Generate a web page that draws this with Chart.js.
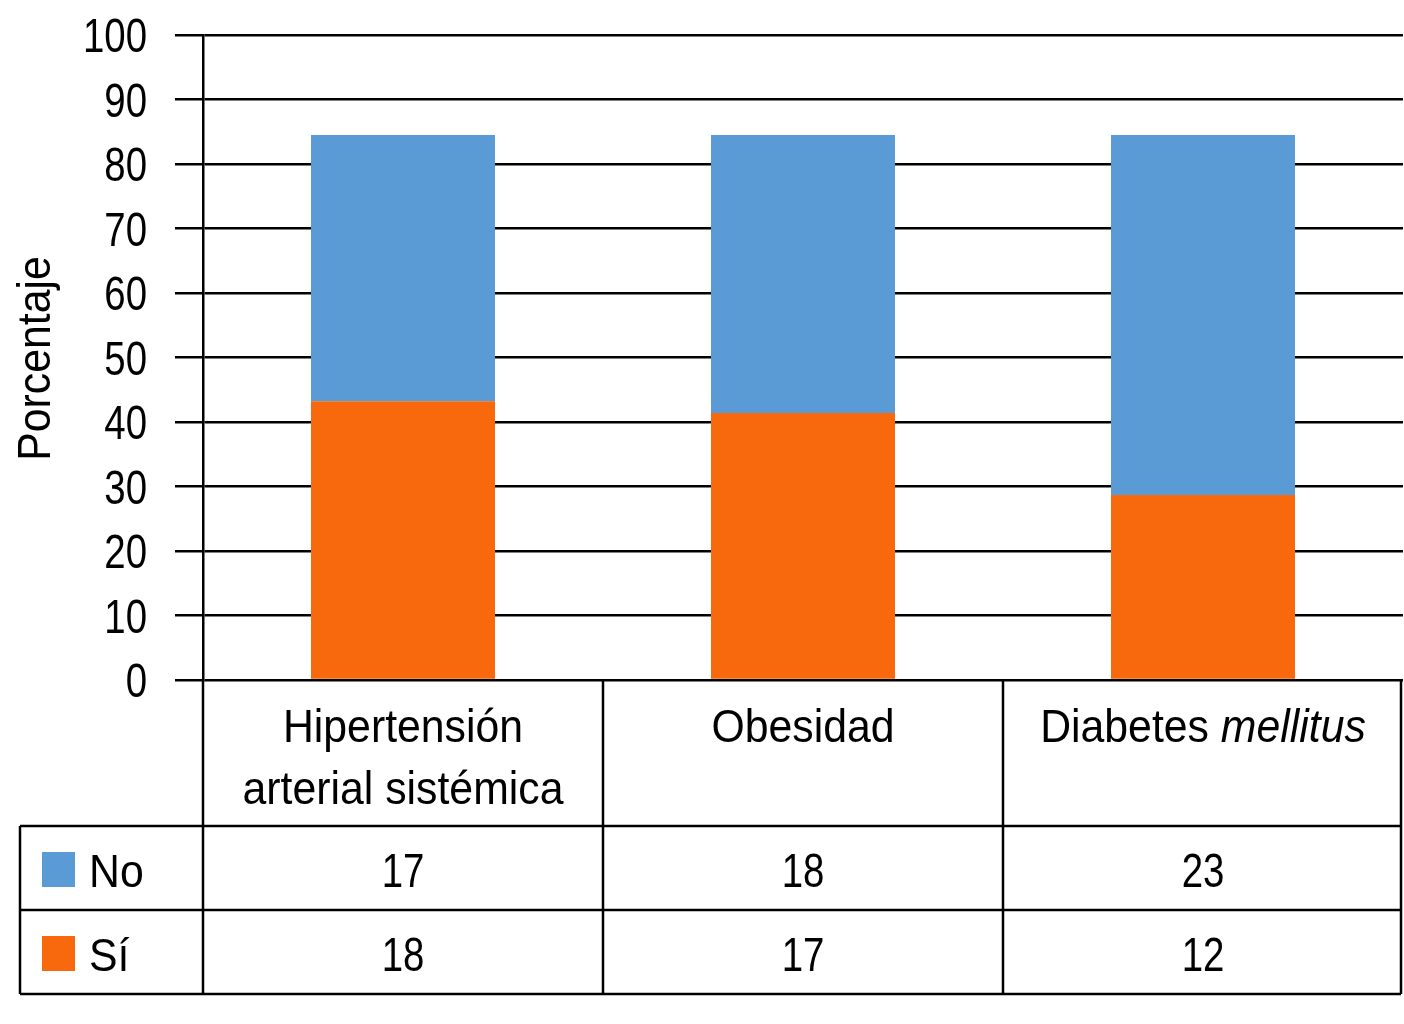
<!DOCTYPE html>
<html>
<head>
<meta charset="utf-8">
<script src="https://cdn.jsdelivr.net/npm/chart.js@4/dist/chart.umd.min.js"></script>
<style>
  html, body { margin: 0; padding: 0; background: #fff; }
  #wrap { width: 1404px; height: 1024px; }
</style>
</head>
<body>
<div id="wrap"><canvas id="chart" width="1404" height="1024"></canvas></div>
<script>
const categories = [['Hipertensión', 'arterial sistémica'], ['Obesidad'], ['Diabetes mellitus']];
const italicWords = ['mellitus'];
const seriesNames = ['No', 'Sí'];
// porcentajes
const siPct = [43.2, 41.4, 28.7];
const noPct = [41.3, 43.1, 55.8];
// conteos de la tabla
const noCounts = [17, 18, 23];
const siCounts = [18, 17, 12];
const yTicks = [0, 10, 20, 30, 40, 50, 60, 70, 80, 90, 100];
const yTitle = 'Porcentaje';

const FONT = "'Liberation Sans', Arial, Helvetica, sans-serif";
const blue = '#5B9BD5';
const orange = '#F7690C';

// texto estrechado (la figura usa una Helvetica condensada)
function narrowText(ctx, text, x, y, opts) {
  const o = Object.assign({ size: 46, sx: 0.93, align: 'left', italic: false }, opts);
  ctx.save();
  ctx.font = (o.italic ? 'italic ' : '') + o.size + 'px ' + FONT;
  ctx.translate(x, y);
  ctx.scale(o.sx, 1);
  ctx.textAlign = o.align;
  ctx.textBaseline = 'alphabetic';
  ctx.fillStyle = '#000';
  ctx.fillText(text, 0, 0);
  ctx.restore();
}

function textWidth(ctx, text, size, sx, italic) {
  ctx.save();
  ctx.font = (italic ? 'italic ' : '') + size + 'px ' + FONT;
  const w = ctx.measureText(text).width * sx;
  ctx.restore();
  return w;
}

const textPlugin = {
  id: 'axisText',
  afterDraw(chart) {
    const ctx = chart.ctx;
    const y = chart.scales.y;
    // etiquetas del eje y
    y.ticks.forEach(t => {
      narrowText(ctx, String(t.value), y.right - 56, y.getPixelForValue(t.value) + 17, { size: 48, sx: 0.8, align: 'right' });
    });
    // titulo del eje y
    ctx.save();
    ctx.translate(50, (chart.chartArea.top + chart.chartArea.bottom) / 2 + 1);
    ctx.rotate(-Math.PI / 2);
    narrowText(ctx, yTitle, 0, 0, { align: 'center' });
    ctx.restore();
  }
};

const tablePlugin = {
  id: 'dataTable',
  afterDraw(chart) {
    const ctx = chart.ctx;
    const area = chart.chartArea;
    const x = chart.scales.x;
    const half = (x.getPixelForValue(1) - x.getPixelForValue(0)) / 2;
    const top = area.bottom;
    const hdrBottom = top + 146;
    const row1 = hdrBottom + 84;
    const row2 = row1 + 84;
    const left = 20;
    const right = area.right - 2;

    ctx.save();
    ctx.strokeStyle = '#000';
    ctx.lineWidth = 2.5;
    ctx.beginPath();
    [hdrBottom, row1, row2].forEach(yy => { ctx.moveTo(left, yy); ctx.lineTo(right, yy); });
    ctx.moveTo(left, hdrBottom); ctx.lineTo(left, row2);
    ctx.moveTo(area.left, top); ctx.lineTo(area.left, row2);
    categories.forEach((c, i) => {
      const xr = i === categories.length - 1 ? right : x.getPixelForValue(i) + half;
      ctx.moveTo(xr, top); ctx.lineTo(xr, row2);
    });
    ctx.stroke();
    ctx.restore();

    // cabecera con las categorias
    categories.forEach((lines, i) => {
      const cx = x.getPixelForValue(i);
      lines.forEach((line, k) => {
        const base = top + 62 + k * 62;
        const words = line.split(' ');
        const parts = words.map((w, j) => ({
          text: w + (j < words.length - 1 ? ' ' : ''),
          italic: italicWords.includes(w)
        }));
        let total = 0;
        parts.forEach(p => { p.w = textWidth(ctx, p.text, 46, 0.93, p.italic); total += p.w; });
        let xx = cx - total / 2;
        parts.forEach(p => { narrowText(ctx, p.text, xx, base, { italic: p.italic }); xx += p.w; });
      });
    });

    // valores
    const rows = [noCounts, siCounts];
    const rowMid = [(hdrBottom + row1) / 2, (row1 + row2) / 2];
    rows.forEach((vals, r) => {
      vals.forEach((v, i) => narrowText(ctx, String(v), x.getPixelForValue(i), rowMid[r] + 19, { size: 48, sx: 0.8, align: 'center' }));
    });

    // claves de la leyenda
    const keyColors = [blue, orange];
    seriesNames.forEach((name, r) => {
      ctx.fillStyle = keyColors[r];
      ctx.fillRect(42, rowMid[r] - 16, 33, 35);
      narrowText(ctx, name, 89, rowMid[r] + 19);
    });
  }
};

new Chart(document.getElementById('chart').getContext('2d'), {
  type: 'bar',
  data: {
    labels: categories,
    datasets: [
      { label: 'Sí', data: siPct, backgroundColor: orange, barPercentage: 0.46, categoryPercentage: 1 },
      { label: 'No', data: noPct, backgroundColor: blue, barPercentage: 0.46, categoryPercentage: 1 }
    ]
  },
  options: {
    responsive: false,
    animation: false,
    layout: { padding: { top: 35, right: 1, bottom: 344, left: 0 } },
    plugins: { legend: { display: false }, tooltip: { enabled: false } },
    scales: {
      x: { stacked: true, display: false },
      y: {
        stacked: true,
        min: 0,
        max: 100,
        afterFit: s => { s.width = 203; },
        afterBuildTicks: s => { s.ticks = yTicks.map(v => ({ value: v })); },
        ticks: { display: false },
        grid: { color: '#000', lineWidth: 2.5, tickLength: 28, drawTicks: true, tickColor: '#000' },
        border: { display: true, color: '#000', width: 2.5 }
      }
    }
  },
  plugins: [textPlugin, tablePlugin]
});
</script>
</body>
</html>
